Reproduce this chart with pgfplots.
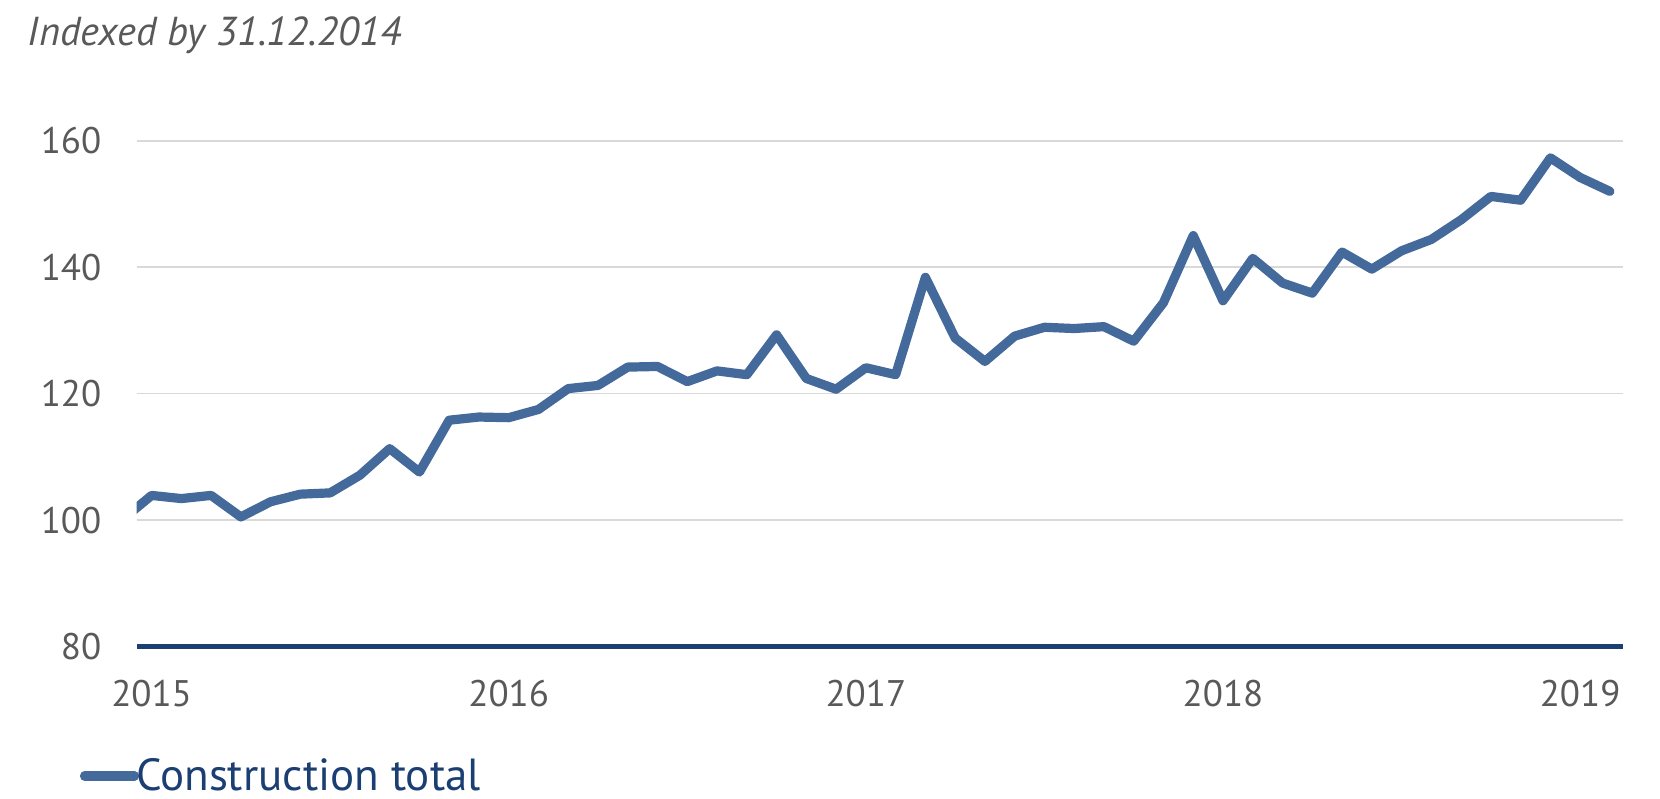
\documentclass[border=0pt]{standalone}
\usepackage{pgfplots}
\pgfplotsset{compat=1.18}
\usepackage{fontspec}
\setmainfont{PT Sans}
\definecolor{linec}{HTML}{44699B}
\definecolor{navy}{HTML}{1B3F73}
\definecolor{txt}{HTML}{595959}
\definecolor{gridc}{HTML}{D9D9D9}
\begin{document}
\begin{tikzpicture}
\path[use as bounding box] (0,0) rectangle (830bp,399.5bp);
\node[anchor=base west, inner sep=0pt, text=txt, font=\fontsize{20.2bp}{22bp}\selectfont\itshape] at (13.75bp,376.5bp) {Indexed by 31.12.2014};
\begin{axis}[
  at={(68.35bp,76.25bp)}, anchor=south west,
  scale only axis, width=743bp, height=252.85bp,
  xmin=-0.5, xmax=49.43, ymin=80, ymax=160,
  ytick={80,100,120,140,160},
  xtick={0,12,24,36,48}, xticklabels={2015,2016,2017,2018,2019},
  ymajorgrids, grid style={draw=gridc, line width=0.8bp},
  axis x line*=bottom, axis y line*=left,
  y axis line style={draw=none},
  x axis line style={draw=navy, line width=2.2bp, -},
  major tick length=0pt, tick style={draw=none},
  /pgf/number format/assume math mode=true,
  tick label style={font=\fontsize{18.5bp}{20bp}\selectfont, text=txt},
  yticklabel style={inner sep=0pt, anchor=east, xshift=-17.5bp},
  xticklabel style={inner sep=0pt, anchor=north, yshift=-16.75bp},
  legend style={at={(-0.0382,-0.256)}, anchor=west, draw=none, fill=none,
    inner sep=0pt, outer sep=0pt, column sep=-1.5bp,
    nodes={inner sep=0pt, text=navy, font=\fontsize{22.5bp}{24bp}\selectfont}},
  legend image code/.code={\draw[line width=4.6bp, line cap=round] (0bp,0bp) -- (25bp,0bp);},
]
\addplot[linec, line width=4.6bp, line join=round, line cap=round] table {
x y
-1 100.0
0 103.9
1 103.4
2 103.9
3 100.5
4 102.9
5 104.1
6 104.3
7 107.1
8 111.3
9 107.6
10 115.8
11 116.3
12 116.2
13 117.5
14 120.8
15 121.3
16 124.2
17 124.3
18 121.9
19 123.6
20 123.0
21 129.3
22 122.4
23 120.7
24 124.1
25 123.0
26 138.4
27 128.8
28 125.1
29 129.1
30 130.5
31 130.3
32 130.6
33 128.3
34 134.4
35 145.0
36 134.7
37 141.4
38 137.5
39 135.9
40 142.4
41 139.7
42 142.6
43 144.4
44 147.5
45 151.2
46 150.6
47 157.3
48 154.2
49 152.0
};
\addlegendentry{Construction total}
\end{axis}
\end{tikzpicture}
\end{document}
